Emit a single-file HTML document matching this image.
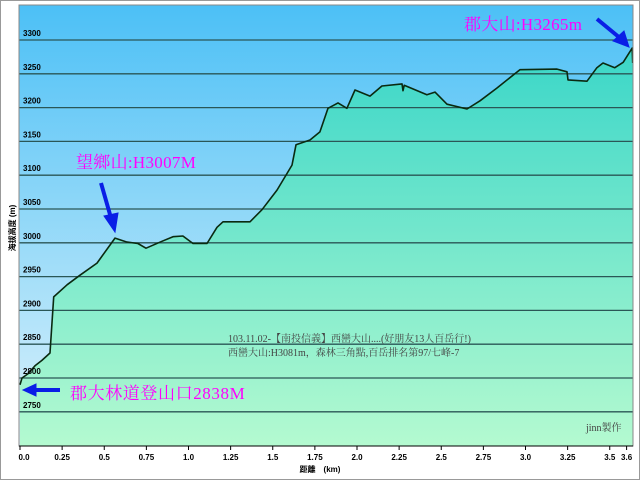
<!DOCTYPE html>
<html><head><meta charset="utf-8"><style>
html,body{margin:0;padding:0;background:#fff;}
svg{display:block;}
.t{font-family:"Liberation Sans","Noto Sans CJK TC",sans-serif;font-size:8px;font-weight:bold;fill:#000;}
.m{font-family:"Liberation Serif","Noto Serif CJK SC",serif;font-size:17px;fill:#ff00ff;}
.n{font-family:"Liberation Serif","Noto Serif CJK SC",serif;font-size:10px;fill:#444;}
</style></head><body>
<svg id="chart" width="640" height="480" viewBox="0 0 640 480">
<defs>
<linearGradient id="sky" x1="0" y1="0" x2="0" y2="1"><stop offset="0" stop-color="#4cc0f6"/><stop offset="1" stop-color="#dcf2fb"/></linearGradient>
<linearGradient id="land" x1="0" y1="0" x2="0" y2="1"><stop offset="0" stop-color="#3ad6c8"/><stop offset="1" stop-color="#b4fad0"/></linearGradient>
</defs>
<rect x="0.5" y="0.5" width="639" height="479" fill="#fff" stroke="#999"/>
<rect x="19" y="5" width="614" height="441" fill="url(#sky)"/>
<path id="area" fill="url(#land)"/>
<g id="grid"></g>
<path id="line" fill="none" stroke="#0a2a10" stroke-width="1.6" stroke-linejoin="round"/>
<rect x="19" y="5" width="614" height="441" fill="none" stroke="#888"/>
<line x1="19" y1="446" x2="633" y2="446" stroke="#000"/>
<g id="xt"></g><g id="yt"></g>
<text x="320" y="472" class="t" text-anchor="middle">距離　(km)</text>
<text transform="translate(15,228) rotate(-90)" class="t" text-anchor="middle">海拔高度 (m)</text>
<text x="76" y="168" class="m" letter-spacing="0.3">望鄉山:H3007M</text>
<text x="464" y="30" class="m" letter-spacing="0.3">郡大山:H3265m</text>
<text x="70" y="399" class="m" letter-spacing="0.6">郡大林道登山口2838M</text>
<g fill="#0a1ee6" stroke="#0a1ee6">
<line x1="101" y1="183" x2="111" y2="218" stroke-width="4"/><polygon points="104,216 118,213 115,232"/>
<line x1="597" y1="19" x2="620" y2="38" stroke-width="4"/><polygon points="613,41 624,31 629,47"/>
<line x1="60" y1="390" x2="36" y2="390" stroke-width="4"/><polygon points="36,384 36,396 23,390"/>
</g>
<text x="228" y="342" class="n">103.11.02-【南投信義】西巒大山....(好朋友13人百岳行!)</text>
<text x="228" y="356" class="n">西巒大山:H3081m，森林三角點,百岳排名第97/七峰-7</text>
<text x="586" y="431" class="n">jinn製作</text>
</svg>
<script>
const distKm=[0,0.012,0.047,0.089,0.13,0.178,0.2,0.28,0.356,0.457,0.564,0.635,0.7,0.748,0.849,0.908,0.967,1.027,1.11,1.169,1.205,1.365,1.436,1.525,1.614,1.638,1.721,1.78,1.828,1.887,1.94,1.988,2.077,2.148,2.267,2.273,2.28,2.415,2.463,2.534,2.653,2.73,2.831,2.967,3.187,3.246,3.252,3.365,3.424,3.46,3.53,3.58,3.633,3.636];
const elevM=[2790,2800,2806,2818,2826,2837,2920,2938,2952,2970,3007,3001,2999,2992,3003,3009,3010,2999,2999,3023,3031,3031,3049,3078,3115,3145,3152,3164,3199,3207,3199,3226,3217,3232,3235,3225,3233,3219,3223,3205,3198,3210,3229,3256,3257,3253,3241,3239,3259,3266,3259,3267,3288,3266];
const yTicks=[2750,2800,2850,2900,2950,3000,3050,3100,3150,3200,3250,3300];
const xTicks=[0,0.25,0.5,0.75,1.0,1.25,1.5,1.75,2.0,2.25,2.5,2.75,3.0,3.25,3.5,3.6];
const xLabels=["0.0","0.25","0.5","0.75","1.0","1.25","1.5","1.75","2.0","2.25","2.5","2.75","3.0","3.25","3.5","3.6"];
const X=d=>20+d*168.5, Y=v=>40+(3300-v)*0.676;
const ns="http://www.w3.org/2000/svg";
let pts=distKm.map((d,i)=>X(d).toFixed(1)+","+Y(elevM[i]).toFixed(1));
const line=document.getElementById('line');
line.setAttribute('d',"M"+pts.join(" L"));
document.getElementById('area').setAttribute('d',"M"+X(distKm[0])+",446 L"+pts.join(" L")+" L"+X(distKm[distKm.length-1])+",446 Z");
const g=document.getElementById('grid'),yt=document.getElementById('yt'),xt=document.getElementById('xt');
yTicks.forEach(v=>{
 const l=document.createElementNS(ns,'line');
 l.setAttribute('x1',19);l.setAttribute('x2',633);l.setAttribute('y1',Y(v));l.setAttribute('y2',Y(v));
 l.setAttribute('stroke','#2a5656');l.setAttribute('stroke-width','1.3');
 
 
 g.appendChild(l);
 const t=document.createElementNS(ns,'text');
 t.setAttribute('x',23);t.setAttribute('y',Y(v)-4);t.setAttribute('class','t');t.textContent=v;
 
 
 yt.appendChild(t);
});
xTicks.forEach((d,i)=>{
 const l=document.createElementNS(ns,'line');
 l.setAttribute('x1',X(d));l.setAttribute('x2',X(d));l.setAttribute('y1',446);l.setAttribute('y2',450);l.setAttribute('stroke','#000');
 
 
 xt.appendChild(l);
 const t=document.createElementNS(ns,'text');
 t.setAttribute('x',X(d)+(i==0?4:0));t.setAttribute('y',460);t.setAttribute('class','t');t.setAttribute('text-anchor','middle');t.textContent=xLabels[i];
 
 
 xt.appendChild(t);
});
</script>
</body></html>
